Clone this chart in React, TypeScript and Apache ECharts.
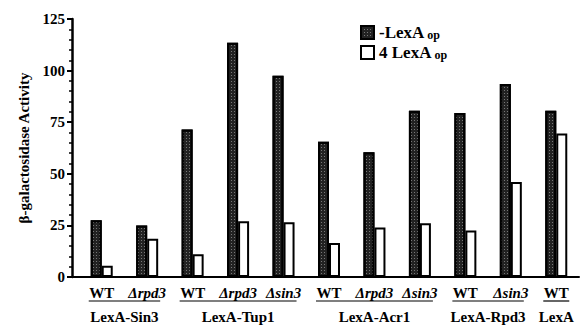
import React, { useEffect, useRef } from "react";
import * as echarts from "echarts";

const categories = ["WT", "Δrpd3", "WT", "Δrpd3", "Δsin3", "WT", "Δrpd3", "Δsin3", "WT", "Δsin3", "WT"];
const noOpValues = [27.5, 25, 71.5, 113.5, 97.5, 65.5, 60.5, 80.5, 79.5, 93.5, 80.5];
const fourOpValues = [5.5, 18.5, 11, 27, 26.5, 16.5, 24, 26, 22.5, 46, 69.5];
const groups = [
  { name: "LexA-Sin3", first: 0, last: 1 },
  { name: "LexA-Tup1", first: 2, last: 4 },
  { name: "LexA-Acr1", first: 5, last: 7 },
  { name: "LexA-Rpd3", first: 8, last: 9 },
  { name: "LexA", first: 10, last: 10 },
];
const yTicks = { min: 0, max: 125, interval: 25 };
const seriesNames = ["-LexA op", "4 LexA op"];

const SERIF = "Liberation Serif, Times New Roman, serif";

export default function App() {
  const ref = useRef<HTMLDivElement>(null);
  useEffect(() => {
    if (!ref.current) return;
    const chart = echarts.init(ref.current, undefined, { renderer: "svg" });
    const option: any = {
      animation: false,
      backgroundColor: "#fff",
      textStyle: { fontFamily: SERIF, fontWeight: "bold", color: "#000" },
      grid: [
        { left: 79, right: 1, top: 19, bottom: 49, containLabel: false },
        { left: 72, right: 1, top: 19, bottom: 49, containLabel: false },
      ],
      legend: {
        orient: "vertical",
        left: 355,
        top: 17,
        itemWidth: 13,
        itemHeight: 13,
        itemGap: 1,
        icon: "rect",
        data: seriesNames,
        formatter: (name: string) => {
          const main = name.replace(/ op$/, "");
          return `{a|${main}}{b| op}`;
        },
        textStyle: {
          rich: {
            a: { fontFamily: SERIF, fontWeight: "bold", fontSize: 17, lineHeight: 17, color: "#000" },
            b: {
              fontFamily: SERIF,
              fontWeight: "bold",
              fontSize: 12,
              lineHeight: 12,
              color: "#000",
              verticalAlign: "bottom",
              padding: [7, 0, 0, 0],
            },
          },
        },
      },
      xAxis: [
        {
          type: "category",
          gridIndex: 0,
          data: categories,
          axisLine: { lineStyle: { color: "#000", width: 2 } },
          axisTick: { show: false },
          axisLabel: {
            margin: 8,
            interval: 0,
            formatter: (v: string) => (v.startsWith("Δ") ? `{i|${v}}` : `{n|${v}}`),
            rich: {
              n: { fontFamily: SERIF, fontWeight: "bold", fontSize: 15, color: "#000" },
              i: { fontFamily: SERIF, fontWeight: "bold", fontStyle: "italic", fontSize: 15, color: "#000" },
            },
          },
          splitLine: { show: false },
        },
        {
          type: "category",
          gridIndex: 1,
          data: categories,
          show: false,
        },
      ],
      yAxis: [
        {
          type: "value",
          gridIndex: 0,
          min: yTicks.min,
          max: yTicks.max,
          interval: yTicks.interval,
          show: false,
        },
        {
          type: "value",
          gridIndex: 1,
          min: yTicks.min,
          max: yTicks.max,
          interval: yTicks.interval,
          name: "β-galactosidase Activity",
          nameLocation: "middle",
          nameGap: 41,
          nameMoveOverlap: false,
          nameRotate: 90,
          nameTextStyle: { fontFamily: SERIF, fontWeight: "bold", fontSize: 15, color: "#000" },
          axisLine: { show: true, lineStyle: { color: "#000", width: 2.5 } },
          axisTick: { show: true, length: 5, lineStyle: { color: "#000", width: 2 } },
          minorTick: { show: true, splitNumber: 5, length: 3, lineStyle: { color: "#000", width: 1.5 } },
          axisLabel: { margin: 7, fontFamily: SERIF, fontWeight: "bold", fontSize: 15, color: "#000" },
          splitLine: { show: false },
        },
      ],
      series: [
        {
          name: seriesNames[0],
          type: "bar",
          xAxisIndex: 0,
          yAxisIndex: 0,
          data: noOpValues,
          barWidth: 11,
          barGap: "0%",
          itemStyle: {
            color: "#222",
            borderColor: "#000",
            borderWidth: 2,
            decal: {
              symbol: "rect",
              symbolSize: 1,
              color: "rgba(175,175,175,0.6)",
              dashArrayX: [1, 2],
              dashArrayY: [1, 2],
              rotation: 0,
            },
          },
        },
        {
          name: seriesNames[1],
          type: "bar",
          xAxisIndex: 0,
          yAxisIndex: 0,
          data: fourOpValues,
          barWidth: 11,
          barGap: "0%",
          itemStyle: { color: "#fff", borderColor: "#000", borderWidth: 2 },
        },
      ],
    };
    chart.setOption(option);

    const y0 = chart.convertToPixel({ yAxisIndex: 0 }, 0) as number;
    const x0 = chart.convertToPixel({ xAxisIndex: 0 }, 0) as number;
    const x1 = chart.convertToPixel({ xAxisIndex: 0 }, 1) as number;
    const step = x1 - x0;
    const axisLeft = chart.convertToPixel({ xAxisIndex: 1 }, 0) as number;
    const step1 = (chart.convertToPixel({ xAxisIndex: 1 }, 1) as number) - axisLeft;
    const elements: any[] = [
      {
        type: "line",
        shape: { x1: axisLeft - step1 / 2, y1: y0, x2: x0 - step / 2 + 1, y2: y0 },
        style: { stroke: "#000", lineWidth: 2 },
      },
    ];
    groups.forEach((g) => {
      const a = chart.convertToPixel({ xAxisIndex: 0 }, g.first) as number;
      const b = chart.convertToPixel({ xAxisIndex: 0 }, g.last) as number;
      const l = a - 13;
      const r = b + 13;
      elements.push({
        type: "line",
        shape: { x1: l, y1: y0 + 24, x2: r, y2: y0 + 24 },
        style: { stroke: "#000", lineWidth: 1.2 },
      });
      elements.push({
        type: "text",
        x: (l + r) / 2,
        y: y0 + 40,
        style: {
          text: g.name,
          fontFamily: SERIF,
          fontWeight: "bold",
          fontSize: 15,
          fill: "#000",
          align: "center",
          verticalAlign: "middle",
        },
      });
    });
    chart.setOption({ graphic: elements });

    return () => chart.dispose();
  }, []);
  return <div ref={ref} style={{ width: 580, height: 326, position: "absolute", left: 0, top: 0 }} />;
}
